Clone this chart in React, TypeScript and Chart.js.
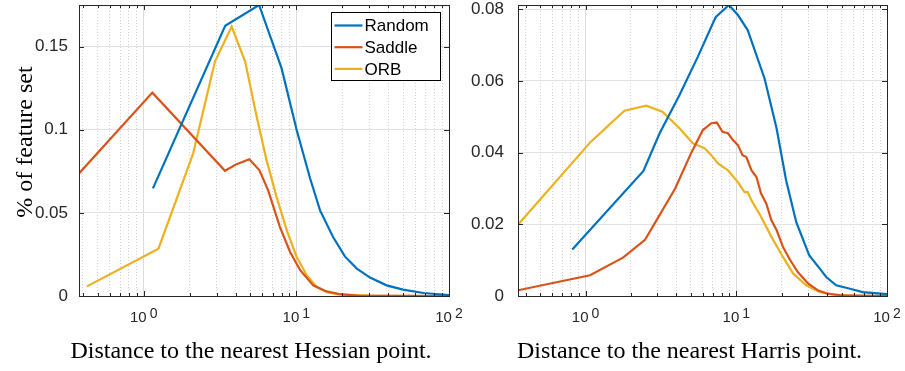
import React, { useEffect, useRef } from 'react';
import { Chart, registerables } from 'chart.js';

Chart.register(...registerables);

// ---------- data ----------
const seriesNames = ['Random', 'Saddle', 'ORB'];

const hessianRandomX = [1.15, 3.42, 5.7, 8.0, 10.05, 12.3, 14.3, 17.4, 20.8, 24.9, 30.4, 39, 50, 68, 100];
const hessianRandomY = [0.0647, 0.1625, 0.175, 0.137, 0.0998, 0.0708, 0.0515, 0.0355, 0.0238, 0.0165, 0.0111, 0.0064, 0.0038, 0.0018, 0.0006];

const hessianSaddleX = [0.377, 1.14, 3.41, 4.06, 4.92, 5.72, 6.53, 7.8, 9.1, 10.6, 12.9, 15.5, 19, 25, 40, 100];
const hessianSaddleY = [0.0737, 0.1223, 0.0753, 0.0793, 0.0822, 0.0757, 0.0637, 0.0416, 0.0265, 0.0155, 0.0064, 0.003, 0.0011, 0.0003, 0.0001, 0];

const hessianOrbX = [0.425, 1.25, 2.11, 2.93, 3.77, 4.62, 5.5, 6.38, 7.42, 8.65, 10.05, 11.7, 13.6, 16, 20, 30, 100];
const hessianOrbY = [0.0058, 0.0285, 0.0858, 0.141, 0.162, 0.141, 0.1078, 0.0817, 0.0596, 0.0396, 0.0235, 0.0125, 0.0054, 0.0022, 0.0008, 0.0002, 0];

const harrisRandomX = [0.816, 2.42, 3.1, 4.2, 5.56, 7.29, 8.93, 10.25, 11.9, 13.6, 15.4, 18.5, 21.4, 25, 30.5, 35.7, 39.5, 46, 56, 69, 100];
const harrisRandomY = [0.013, 0.0349, 0.0454, 0.0561, 0.0668, 0.0778, 0.0812, 0.0784, 0.0742, 0.0672, 0.0607, 0.0468, 0.0323, 0.0206, 0.0113, 0.0077, 0.0053, 0.003, 0.0021, 0.0011, 0.0005];

const harrisSaddleX = [0.356, 1.07, 1.77, 2.48, 3.93, 5.03, 6.0, 6.83, 7.42, 8.1, 8.8, 9.5, 10.25, 11.0, 11.65, 12.6, 13.6, 14.6, 15.8, 17.1, 18.5, 20.4, 22.5, 25.6, 29.9, 35, 40, 50, 100];
const harrisSaddleY = [0.0016, 0.0058, 0.0107, 0.0157, 0.03, 0.04, 0.0463, 0.0482, 0.0484, 0.0458, 0.0454, 0.0435, 0.0421, 0.0393, 0.0388, 0.0351, 0.0332, 0.0286, 0.0258, 0.0211, 0.0184, 0.0137, 0.0104, 0.0067, 0.0035, 0.0015, 0.0007, 0.0002, 0];

const harrisOrbX = [0.356, 1.08, 1.81, 2.53, 3.23, 4.2, 5.15, 6.17, 6.83, 7.55, 8.8, 10.25, 11.35, 11.9, 12.6, 14.6, 17.1, 20.4, 23.8, 29.1, 35.7, 45, 60, 100];
const harrisOrbY = [0.0199, 0.043, 0.0517, 0.0531, 0.0514, 0.0468, 0.0426, 0.0412, 0.0393, 0.037, 0.0351, 0.0318, 0.029, 0.029, 0.0267, 0.0221, 0.0165, 0.0109, 0.0063, 0.003, 0.0011, 0.0003, 0.0001, 0];

const hessianXMin = 0.377;
const harrisXMin = 0.356;
const xMax = 100;
const hessianYMax = 0.175;
const harrisYMax = 0.0812;
const hessianYTicks = [0, 0.05, 0.1, 0.15];
const harrisYTicks = [0, 0.02, 0.04, 0.06, 0.08];

const hessianXLabel = 'Distance to the nearest Hessian point.';
const harrisXLabel = 'Distance to the nearest Harris point.';
const yLabel = '% of feature set';

// ---------- styles ----------
const seriesColors = ['#0072BD', '#D95319', '#EDB120'];
const AXIS_COLOR = '#262626';
const SANS = '"Liberation Sans", Arial, sans-serif';
const SERIF = '"Liberation Serif", "Times New Roman", serif';
const H = 371;

const isDecade = (v?: number) => {
  if (v === undefined || v === null || v <= 0) return false;
  const l = Math.log10(v);
  return Math.abs(l - Math.round(l)) < 1e-9;
};

const logTicks = (min: number, max: number) => {
  const out: number[] = [];
  for (let e = Math.floor(Math.log10(min)); e <= Math.ceil(Math.log10(max)); e++) {
    for (let m = 1; m <= 9; m++) {
      const v = m * Math.pow(10, e);
      if (v >= min - 1e-12 && v <= max + 1e-12) out.push(v);
    }
  }
  return out;
};

const toPoints = (xs: number[], ys: number[]) => xs.map((x, i) => ({ x, y: ys[i] }));

const matlabAxes = {
  id: 'matlabAxes',
  afterDatasetsDraw(chart: any, _args: any, opts: any) {
    const { ctx, chartArea: a, scales } = chart;
    const xs = scales.x;
    const ys = scales.y;
    ctx.save();
    ctx.strokeStyle = AXIS_COLOR;
    ctx.lineWidth = 1;
    // inward ticks
    ctx.beginPath();
    xs.ticks.forEach((t: any) => {
      const px = Math.round(xs.getPixelForValue(t.value)) + 0.5;
      const len = isDecade(t.value) ? 5 : 3;
      ctx.moveTo(px, a.bottom);
      ctx.lineTo(px, a.bottom - len);
      ctx.moveTo(px, a.top);
      ctx.lineTo(px, a.top + len);
    });
    ys.ticks.forEach((t: any) => {
      const py = Math.round(ys.getPixelForValue(t.value)) + 0.5;
      ctx.moveTo(a.left, py);
      ctx.lineTo(a.left + 5, py);
      ctx.moveTo(a.right, py);
      ctx.lineTo(a.right - 5, py);
    });
    ctx.stroke();
    // box
    ctx.strokeRect(Math.round(a.left) + 0.5, Math.round(a.top) + 0.5, Math.round(a.right - a.left), Math.round(a.bottom - a.top));

    // x tick labels 10^n
    ctx.fillStyle = AXIS_COLOR;
    ctx.textBaseline = 'alphabetic';
    ctx.textAlign = 'left';
    xs.ticks.forEach((t: any) => {
      if (!isDecade(t.value)) return;
      const ex = String(Math.round(Math.log10(t.value)));
      ctx.font = `15px ${SANS}`;
      const wb = ctx.measureText('10').width;
      ctx.font = `14px ${SANS}`;
      const we = ctx.measureText(ex).width;
      const gap = 3;
      const px = xs.getPixelForValue(t.value);
      const start = px - (wb + gap + we) / 2;
      ctx.font = `15px ${SANS}`;
      ctx.fillText('10', start, a.bottom + 26);
      ctx.font = `14px ${SANS}`;
      ctx.fillText(ex, start + wb + gap, a.bottom + 22);
    });

    // x caption
    ctx.fillStyle = '#000';
    ctx.font = `24px ${SERIF}`;
    ctx.textAlign = 'center';
    ctx.fillText(opts.xLabel, (a.left + a.right) / 2 - 13, 358);

    // y caption
    if (opts.yLabel) {
      ctx.save();
      ctx.translate(32, 142);
      ctx.rotate(-Math.PI / 2);
      ctx.textAlign = 'center';
      ctx.fillText(opts.yLabel, 0, 0);
      ctx.restore();
    }

    // legend
    if (opts.legend) {
      const bx = Math.round(a.right - 118) + 0.5;
      const by = Math.round(a.top + 7) + 0.5;
      const bw = 109;
      const bh = 68;
      ctx.fillStyle = '#fff';
      ctx.fillRect(bx, by, bw, bh);
      ctx.strokeStyle = '#000';
      ctx.lineWidth = 1;
      ctx.strokeRect(bx, by, bw, bh);
      ctx.font = `17px ${SANS}`;
      ctx.textAlign = 'left';
      ctx.textBaseline = 'middle';
      chart.data.datasets.forEach((ds: any, i: number) => {
        const ry = by + 13 + i * 21.7;
        ctx.strokeStyle = ds.borderColor;
        ctx.lineWidth = 2.2;
        ctx.beginPath();
        ctx.moveTo(bx + 3, ry);
        ctx.lineTo(bx + 31, ry);
        ctx.stroke();
        ctx.fillStyle = '#000';
        ctx.fillText(ds.label, bx + 33, ry + 1);
      });
    }
    ctx.restore();
  },
};

function makeConfig(p: {
  series: { x: number[]; y: number[] }[];
  xMin: number;
  yMax: number;
  yTicks: number[];
  yWidth: number;
  yPad: number;
  padRight: number;
  xLabel: string;
  yLabel?: string;
  legend: boolean;
}): any {
  return {
    type: 'line',
    data: {
      datasets: p.series.map((s, i) => ({
        label: seriesNames[i],
        data: toPoints(s.x, s.y),
        borderColor: seriesColors[i],
        backgroundColor: seriesColors[i],
        borderWidth: 2.2,
        pointRadius: 0,
        tension: 0,
        fill: false,
      })),
    },
    options: {
      responsive: false,
      animation: false,
      devicePixelRatio: 1,
      layout: { padding: { left: 0, right: p.padRight, top: 5, bottom: 0 } },
      plugins: {
        legend: { display: false },
        tooltip: { enabled: false },
        matlabAxes: { legend: p.legend, xLabel: p.xLabel, yLabel: p.yLabel },
      },
      scales: {
        x: {
          type: 'logarithmic',
          min: p.xMin,
          max: xMax,
          afterBuildTicks: (s: any) => {
            s.ticks = logTicks(p.xMin, xMax).map((v) => ({ value: v, major: isDecade(v) }));
          },
          afterFit: (s: any) => {
            s.height = H - 296;
            s.paddingLeft = 0;
            s.paddingRight = 0;
          },
          ticks: { display: false },
          grid: {
            drawTicks: false,
            lineWidth: 1,
            color: (c: any) => (isDecade(c.tick?.value) ? '#dcdcdc' : '#d2d2d2'),
          },
          border: {
            display: false,
            dash: (c: any) => (isDecade(c.tick?.value) ? [] : [1, 2]),
          },
          title: { display: false },
        },
        y: {
          type: 'linear',
          min: 0,
          max: p.yMax,
          afterBuildTicks: (s: any) => {
            s.ticks = p.yTicks.map((v) => ({ value: v }));
          },
          afterFit: (s: any) => {
            s.width = p.yWidth;
            s.paddingTop = 0;
            s.paddingBottom = 0;
          },
          ticks: {
            padding: p.yPad,
            color: AXIS_COLOR,
            font: { family: SANS, size: 17 },
            callback: (v: any) => String(v),
          },
          grid: { drawTicks: false, lineWidth: 1, color: '#e2e2e2' },
          border: { display: false },
          title: { display: false },
        },
      },
    },
    plugins: [matlabAxes],
  };
}

function Plot({ left, width, config }: { left: number; width: number; config: () => any }) {
  const ref = useRef<HTMLCanvasElement>(null);
  useEffect(() => {
    const chart = new Chart(ref.current as HTMLCanvasElement, config());
    return () => chart.destroy();
  }, []);
  return (
    <canvas
      ref={ref}
      width={width}
      height={H}
      style={{ position: 'absolute', left, top: 0, width, height: H, display: 'block' }}
    />
  );
}

export default function App() {
  return (
    <div style={{ position: 'absolute', left: 0, top: 0, width: 905, height: H, background: '#fff' }}>
      <Plot
        left={0}
        width={465}
        config={() =>
          makeConfig({
            series: [
              { x: hessianRandomX, y: hessianRandomY },
              { x: hessianSaddleX, y: hessianSaddleY },
              { x: hessianOrbX, y: hessianOrbY },
            ],
            xMin: hessianXMin,
            yMax: hessianYMax,
            yTicks: hessianYTicks,
            yWidth: 79,
            yPad: 11,
            padRight: 16,
            xLabel: hessianXLabel,
            yLabel: yLabel,
            legend: true,
          })
        }
      />
      <Plot
        left={465}
        width={440}
        config={() =>
          makeConfig({
            series: [
              { x: harrisRandomX, y: harrisRandomY },
              { x: harrisSaddleX, y: harrisSaddleY },
              { x: harrisOrbX, y: harrisOrbY },
            ],
            xMin: harrisXMin,
            yMax: harrisYMax,
            yTicks: harrisYTicks,
            yWidth: 53,
            yPad: 14,
            padRight: 18,
            xLabel: harrisXLabel,
            legend: false,
          })
        }
      />
    </div>
  );
}
